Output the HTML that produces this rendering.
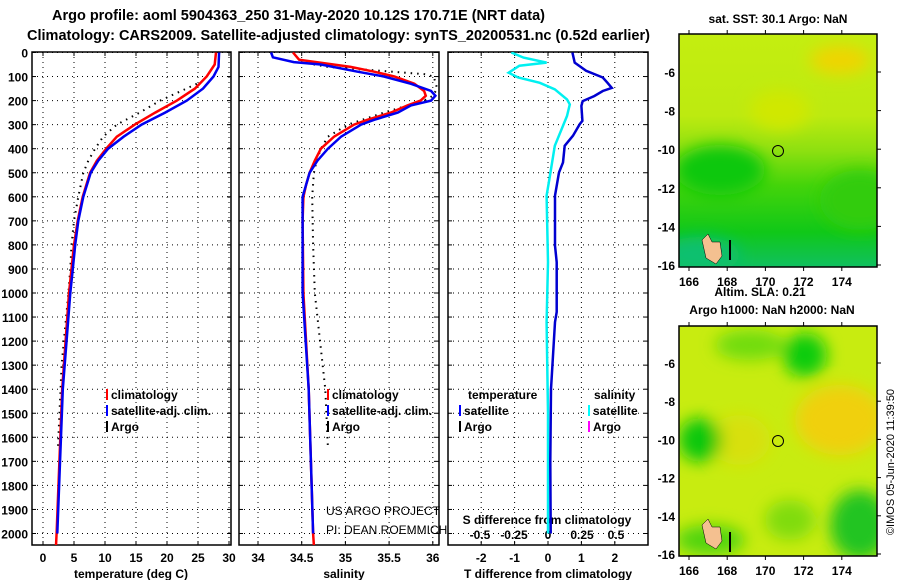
<!DOCTYPE html>
<html><head><meta charset="utf-8">
<style>
html,body{margin:0;padding:0;background:#fff;}
body{width:900px;height:580px;overflow:hidden;font-family:"Liberation Sans",sans-serif;}
svg text{font-family:"Liberation Sans",sans-serif;}
.b{font-weight:bold;}
</style></head>
<body>
<svg id="chart" width="900" height="580" viewBox="0 0 900 580" xmlns="http://www.w3.org/2000/svg">
<defs>
<clipPath id="c1"><rect x="32" y="52" width="199" height="493"/></clipPath>
<clipPath id="c2"><rect x="239" y="52" width="200" height="493"/></clipPath>
<clipPath id="c3"><rect x="448" y="52" width="200" height="493"/></clipPath>
<clipPath id="m1"><rect x="679" y="34" width="198" height="233"/></clipPath>
<clipPath id="m2"><rect x="679" y="326" width="198" height="230"/></clipPath>
<linearGradient id="g1" x1="0" y1="0" x2="0" y2="1">
<stop offset="0" stop-color="#c4ee10"/><stop offset="0.35" stop-color="#bdea10"/>
<stop offset="0.5" stop-color="#8ee010"/><stop offset="0.65" stop-color="#44d40a"/>
<stop offset="0.85" stop-color="#10c818"/><stop offset="1" stop-color="#10c060"/></linearGradient>
<filter id="bl"><feGaussianBlur stdDeviation="8"/></filter>
</defs>
<g>
<text x="52" y="20" text-anchor="start" font-size="14.5" class="b" textLength="493">Argo profile: aoml 5904363_250 31-May-2020 10.12S 170.71E (NRT data)</text>
<text x="27" y="40" text-anchor="start" font-size="14.5" class="b" textLength="623">Climatology: CARS2009. Satellite-adjusted climatology: synTS_20200531.nc (0.52d earlier)</text>
</g>
<g id="plots"></g>
<g id="maps">
<g clip-path="url(#m1)">
<rect x="679" y="34" width="198" height="233" fill="url(#g1)"/>
<g filter="url(#bl)">
<ellipse cx="840" cy="60" rx="30" ry="14" fill="#f0d400"/>
<ellipse cx="780" cy="110" rx="30" ry="20" fill="#d0e800"/>
<ellipse cx="720" cy="170" rx="45" ry="25" fill="#10c810"/>
<ellipse cx="860" cy="200" rx="40" ry="30" fill="#30cc10"/>
<ellipse cx="700" cy="255" rx="40" ry="18" fill="#10c070"/>
</g>
<path d="M702 240 l6 -6 l4 8 l8 0 l2 14 l-6 8 l-10 -6 z" fill="#f4c090" stroke="#000" stroke-width="0.5"/>
<rect x="729" y="240" width="2" height="20" fill="#000"/>
<circle cx="778" cy="151" r="5.5" fill="none" stroke="#000" stroke-width="1"/>
</g>
<rect x="679" y="34" width="198" height="233" fill="none" stroke="#000" stroke-width="1.5"/>
<text x="778" y="23" text-anchor="middle" font-size="12" class="b">sat. SST: 30.1 Argo: NaN</text>
<text x="760" y="296" text-anchor="middle" font-size="12" class="b">Altim. SLA: 0.21</text>
<g clip-path="url(#m2)">
<rect x="679" y="326" width="198" height="230" fill="#c8ec10"/>
<g filter="url(#bl)">
<ellipse cx="840" cy="420" rx="45" ry="35" fill="#f0d010"/>
<ellipse cx="740" cy="440" rx="30" ry="25" fill="#d8e010"/>
<ellipse cx="805" cy="355" rx="22" ry="22" fill="#10cc10"/>
<ellipse cx="750" cy="345" rx="35" ry="15" fill="#70dc10"/>
<ellipse cx="700" cy="440" rx="22" ry="22" fill="#10c810"/>
<ellipse cx="860" cy="525" rx="30" ry="35" fill="#20c420"/>
<ellipse cx="710" cy="540" rx="35" ry="15" fill="#50d410"/>
<ellipse cx="790" cy="520" rx="25" ry="20" fill="#80dc10"/>
</g>
<path d="M702 525 l6 -6 l4 8 l8 0 l2 14 l-6 8 l-10 -6 z" fill="#f4c090" stroke="#000" stroke-width="0.5"/>
<rect x="729" y="532" width="2" height="20" fill="#000"/>
<circle cx="778" cy="441" r="5.5" fill="none" stroke="#000" stroke-width="1"/>
</g>
<rect x="679" y="326" width="198" height="230" fill="none" stroke="#000" stroke-width="1.5"/>
<text x="772" y="314" text-anchor="middle" font-size="12" class="b">Argo h1000: NaN h2000: NaN</text>
<text transform="translate(894,462) rotate(-90)" text-anchor="middle" font-size="11">©IMOS 05-Jun-2020 11:39:50</text>
</g>
</svg>
<script>
// depth axis
const depthTicks = [0,100,200,300,400,500,600,700,800,900,1000,1100,1200,1300,1400,1500,1600,1700,1800,1900,2000];
// temperature panel
const tempTicks = [0,5,10,15,20,25,30];
const climTDepth = [0,50,100,150,200,250,300,350,400,450,500,600,700,800,900,1000,1400,2000,2050];
const climT = [27.9,27.7,26.4,24.5,21.6,18.1,14.8,11.9,10.2,8.7,7.6,6.4,5.6,5.0,4.6,4.2,3.1,2.2,2.1];
const satTDepth = [0,60,100,150,200,250,300,350,400,450,500,600,700,800,900,1000,1400,2000];
const satT = [28.4,28.3,27.5,25.8,23.2,19.7,15.9,13.0,10.5,8.9,7.7,6.5,5.7,5.2,4.8,4.4,3.2,2.3];
const argoTDepth = [130,200,250,300,350,400,450,500,600,700,800,900,1000,1300,1650];
const argoT = [24.8,18.9,15.6,11.9,9.7,8.4,7.3,6.5,5.7,5.0,4.6,4.4,4.1,3.0,2.4];
// salinity panel
const salTicks = [34,34.5,35,35.5,36];
const climSDepth = [0,30,60,80,100,130,160,180,200,220,250,280,300,350,400,450,500,550,600,700,1000,1400,2000,2050];
const climS = [34.40,34.47,35.06,35.33,35.56,35.79,35.90,35.92,35.86,35.71,35.52,35.25,35.10,34.87,34.72,34.65,34.59,34.55,34.52,34.51,34.52,34.58,34.63,34.64];
const satSDepth = [0,20,40,50,80,100,130,160,180,200,220,250,280,300,350,400,450,500,550,600,700,1000,1400,2000];
const satS = [34.15,34.17,34.41,34.72,35.14,35.44,35.75,35.98,36.03,35.98,35.75,35.60,35.33,35.18,34.95,34.80,34.68,34.59,34.55,34.51,34.51,34.51,34.58,34.63];
const argoSDepth = [40,60,90,100,150,180,200,250,300,350,400,450,500,600,800,1000,1400,1640];
const argoS = [34.49,34.8,35.9,36.01,36.05,36.0,35.9,35.44,35.03,34.8,34.72,34.67,34.64,34.62,34.63,34.65,34.77,34.8];
// difference panel
const dTTicks = [-2,-1,0,1,2];
const dSTicks = [-0.5,-0.25,0,0.25,0.5];
const dSTickLabels = ["-0.5","-0.25","0","0.25","0.5"];
const dTDepth = [0,42,76,104,126,147,160,181,202,222,284,298,346,388,457,499,595,803,872,1079,1121,1400,1700,2000];
const dT = [0.73,0.80,1.14,1.64,1.78,1.91,1.64,1.39,1.04,1.0,1.03,0.95,0.75,0.50,0.45,0.33,0.21,0.21,0.26,0.26,0.21,0.09,0.07,0.08];
const dSDepth = [0,21,42,55,84,104,126,153,195,216,264,319,388,457,526,595,872,1121,1500,2000];
const dS = [-0.27,-0.18,-0.01,-0.21,-0.29,-0.22,-0.06,0.05,0.14,0.16,0.14,0.10,0.05,0.03,0.01,-0.01,0,-0.01,0,0];
// maps
const lonTicks = [166,168,170,172,174];
const latTicks = [-6,-8,-10,-12,-14,-16];

const NS='http://www.w3.org/2000/svg';
const root=document.getElementById('plots');
const yD=d=>52.5+d*0.2405;
function mk(tag,attrs,parent){const e=document.createElementNS(NS,tag);for(const k in attrs)e.setAttribute(k,attrs[k]);(parent||root).appendChild(e);return e;}
function txt(x,y,s,size,anchor,bold,parent){const t=mk('text',{x:x,y:y,'font-size':size,'text-anchor':anchor||'middle','font-weight':bold?'bold':'normal'},parent);t.textContent=s;return t;}
function line(xs,ds,xf,color,w,dash,clip,name){
  let p='';for(let i=0;i<xs.length;i++)p+=(i?'L':'M')+xf(xs[i]).toFixed(1)+' '+yD(ds[i]).toFixed(1);
  const e=mk('path',{d:p,fill:'none',stroke:color,'stroke-width':w,'clip-path':'url(#'+clip+')'});
  if(dash)e.setAttribute('stroke-dasharray',dash);
  
  
  return e;
}
function panel(x0,x1,ticks,xf,clip,name){
  const g=mk('g',{});
  
  
  depthTicks.forEach(d=>{mk('line',{x1:x0,x2:x1,y1:yD(d),y2:yD(d),stroke:'#000','stroke-width':1,'stroke-dasharray':'1 4'},g);
    mk('line',{x1:x0,x2:x0+4,y1:yD(d),y2:yD(d),stroke:'#000'},g);mk('line',{x1:x1-4,x2:x1,y1:yD(d),y2:yD(d),stroke:'#000'},g);});
  ticks.forEach(t=>{const x=xf(t);mk('line',{x1:x,x2:x,y1:52,y2:545,stroke:'#000','stroke-width':1,'stroke-dasharray':'1 4'},g);
    mk('line',{x1:x,x2:x,y1:52,y2:56,stroke:'#000'},g);mk('line',{x1:x,x2:x,y1:541,y2:545,stroke:'#000'},g);});
  mk('rect',{x:x0,y:52,width:x1-x0,height:493,fill:'none',stroke:'#000','stroke-width':1.5},g);
  return g;
}
const xT=t=>43+t*6.2, xS=s=>258+(s-34)*87.4, xdT=v=>548+v*33.4, xdS=v=>548+v*136;
const dl=mk('g',{});


depthTicks.forEach(d=>txt(28,yD(d)+5,String(d),12,'end',true,dl));

const p1=panel(32,231,tempTicks,xT,'c1','temperature-panel');
tempTicks.forEach(t=>txt(xT(t),562,String(t),12,'middle',true,p1));
txt(131,578,'temperature (deg C)',12,'middle',true,p1);
line(argoT,argoTDepth,xT,'#000',2,'1.5 5','c1','argo-temperature-line');
line(climT,climTDepth,xT,'#f00',2.5,null,'c1','climatology-temperature-line');
line(satT,satTDepth,xT,'#0000f0',2.5,null,'c1','satellite-temperature-line');

const p2=panel(239,439,salTicks,xS,'c2','salinity-panel');
salTicks.forEach(t=>txt(xS(t),562,String(t),12,'middle',true,p2));
txt(344,578,'salinity',12,'middle',true,p2);
line(argoS,argoSDepth,xS,'#000',2,'1.5 5','c2','argo-salinity-line');
line(climS,climSDepth,xS,'#f00',2.5,null,'c2','climatology-salinity-line');
line(satS,satSDepth,xS,'#0000f0',2.5,null,'c2','satellite-salinity-line');

const p3=panel(448,648,dTTicks,xdT,'c3','difference-panel');
dTTicks.forEach(t=>txt(xdT(t),562,String(t),12,'middle',true,p3));
txt(548,578,'T difference from climatology',12,'middle',true,p3);
line(dS,dSDepth,xdS,'#00f0f0',2.5,null,'c3','salinity-difference-line');
line(dT,dTDepth,xdT,'#0000d0',2.5,null,'c3','temperature-difference-line');
dSTicks.forEach((t,i)=>txt(xdS(t),539,dSTickLabels[i],12,'middle',true,p3));
txt(547,524,'S difference from climatology',12,'middle',true,p3);

function leg(x,y,color,label,name){const g=mk('g',{});
  
  
  mk('rect',{x:x,y:y-10,width:2,height:11,fill:color},g);txt(x+5,y,label,12,'start',true,g);}
leg(106,399,'#f00','climatology','legend-climatology-t');
leg(106,415,'#00f','satellite-adj. clim.','legend-satellite-t');
leg(106,431,'#000','Argo','legend-argo-t');
leg(327,399,'#f00','climatology','legend-climatology-s');
leg(327,415,'#00f','satellite-adj. clim.','legend-satellite-s');
leg(327,431,'#000','Argo','legend-argo-s');
txt(468,399,'temperature',12,'start',true);
txt(594,399,'salinity',12,'start',true);
leg(459,415,'#00f','satellite','legend-satellite-dt');
leg(459,431,'#000','Argo','legend-argo-dt');
leg(588,415,'#0ff','satellite','legend-satellite-ds');
leg(588,431,'#f0f','Argo','legend-argo-ds');
const cr=txt(326,515,'US ARGO PROJECT',12,'start',false);
const cr2=txt(326,534,'PI: DEAN ROEMMICH',12,'start',false);

function mapAxes(top,bot,lat0,name){
  const g=mk('g',{},document.getElementById('maps'));
  
  
  const lx=l=>689+(l-166)*19.1, ly=l=>lat0+(-6-l)*((bot-lat0-2)/10);
  lonTicks.forEach(l=>{mk('line',{x1:lx(l),x2:lx(l),y1:top-4,y2:top,stroke:'#000'},g);mk('line',{x1:lx(l),x2:lx(l),y1:bot,y2:bot+4,stroke:'#000'},g);
    txt(lx(l),bot+19,String(l),12,'middle',true,g);});
  latTicks.forEach(l=>{mk('line',{x1:877,x2:881,y1:ly(l),y2:ly(l),stroke:'#000'},g);txt(675,ly(l)+5,String(l),12,'end',true,g);});
}
mapAxes(34,267,72,'sst-map-axes');
mapAxes(326,556,363,'sla-map-axes');
</script>
</body></html>
